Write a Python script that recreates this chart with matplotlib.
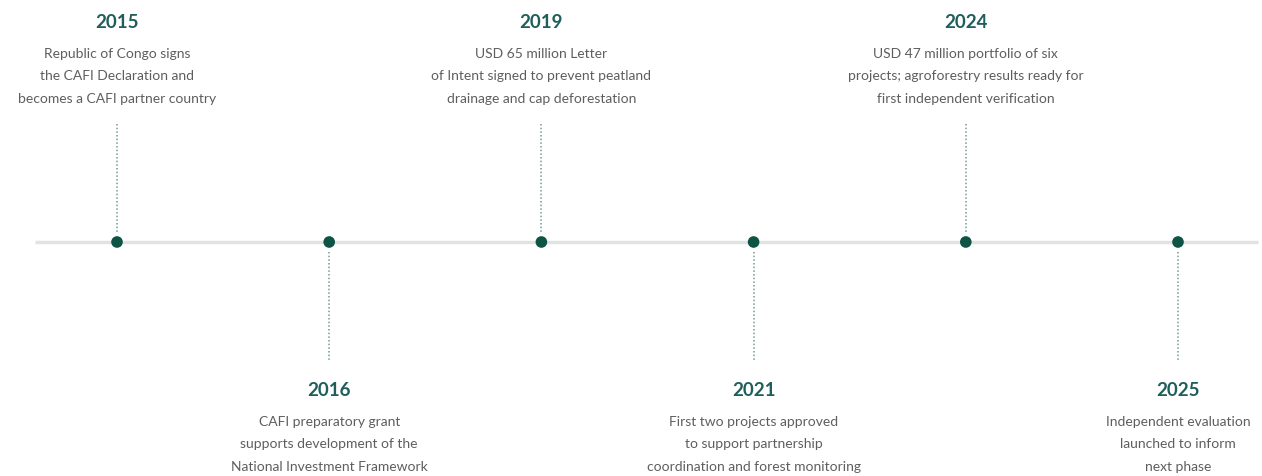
import matplotlib
matplotlib.use("Agg")
from matplotlib import pyplot as plt

years = ["2015", "2016", "2019", "2021", "2024", "2025"]
descriptions = [
    ["Republic of Congo signs", "the CAFI Declaration and", "becomes a CAFI partner country"],
    ["CAFI preparatory grant", "supports development of the", "National Investment Framework"],
    ["USD 65 million Letter", "of Intent signed to prevent peatland", "drainage and cap deforestation"],
    ["First two projects approved", "to support partnership", "coordination and forest monitoring"],
    ["USD 47 million portfolio of six", "projects; agroforestry results ready for", "first independent verification"],
    ["Independent evaluation", "launched to inform", "next phase"],
]
above = [True, False, True, False, True, False]

DOT = "#0e5444"
YEAR = "#1f5e5a"
TEXT = "#5e5e5e"
LINE = "#e2e2e2"
CONN = "#6f9e95"

fig = plt.figure(figsize=(12.62, 4.76), dpi=100)
ax = fig.add_axes([0, 0, 1, 1])
step = 212.2
ax.set_xlim(-117 / step, (1262 - 117) / step)
ax.set_ylim(476, 0)
ax.axis("off")

xs = list(range(len(years)))
axis_y = 242

ax.plot([xs[0] - 82 / step, xs[-1] + 80 / step], [axis_y, axis_y],
        color=LINE, lw=2.5, solid_capstyle="butt", zorder=1)

for x, yr, desc, up in zip(xs, years, descriptions, above):
    if up:
        ax.plot([x, x], [124, 232], color=CONN, lw=1.1, ls=(0, (1, 1.4)), zorder=2)
        y_year, y_txt = 22, 54
    else:
        ax.plot([x, x], [252, 360], color=CONN, lw=1.1, ls=(0, (1, 1.4)), zorder=2)
        y_year, y_txt = 390, 422
    ax.text(x, y_year, yr, ha="center", va="center", color=YEAR,
            fontsize=13.5, fontweight="bold", family="Lato")
    for i, line in enumerate(desc):
        ax.text(x, y_txt + 22.5 * i, line, ha="center", va="center",
                color=TEXT, fontsize=10, family="Lato")

ax.scatter(xs, [axis_y] * len(xs), s=70, color=DOT, zorder=3, edgecolors="none")

fig.savefig("out.png", dpi=100)
